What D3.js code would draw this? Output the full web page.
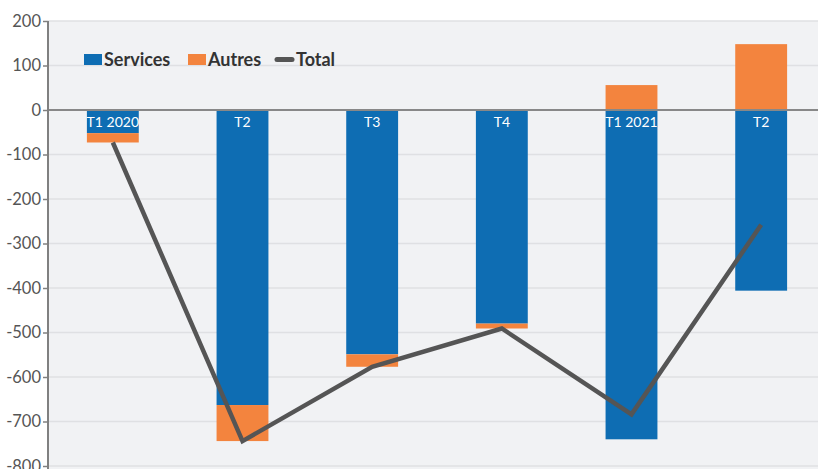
<!DOCTYPE html>
<html>
<head>
<meta charset="utf-8">
<script src="https://cdn.jsdelivr.net/npm/d3@7"></script>
<style>
  body { margin: 0; background: #fff; }
  svg { display: block; }
</style>
</head>
<body>
<svg id="chart"></svg>
<script>
const categories = ['T1 2020', 'T2', 'T3', 'T4', 'T1 2021', 'T2'];
const services = [-52, -663, -549, -480, -740, -406];
const autres = [-21, -81, -28, -11, 56, 148];
const total = [-73, -744, -577, -491, -684, -258];
const yTicks = [200, 100, 0, -100, -200, -300, -400, -500, -600, -700, -800];

const W = 818, H = 469;
const svg = d3.select('#chart').attr('width', W).attr('height', H);

const plotLeft = 48, plotTop = 21, plotBottom = 466;
const x = d3.scaleBand().domain(d3.range(categories.length)).range([plotLeft, 826])
  .paddingInner(0.6).paddingOuter(0.3);
const y = d3.scaleLinear().domain([-800, 200]).range([plotBottom, plotTop]);

// plot background
svg.append('rect')
  .attr('x', plotLeft).attr('y', plotTop)
  .attr('width', W - plotLeft).attr('height', H - plotTop)
  .attr('fill', '#f1f2f4');

// grid lines
svg.append('g')
  .selectAll('line')
  .data(yTicks.filter(d => d !== 0))
  .enter().append('line')
  .attr('x1', plotLeft).attr('x2', W)
  .attr('y1', d => y(d)).attr('y2', d => y(d))
  .attr('stroke', '#dfe0e3').attr('stroke-width', 1.5);

// y axis
const yAxis = svg.append('g')
  .attr('transform', `translate(${plotLeft},0)`)
  .call(d3.axisLeft(y).tickValues(yTicks).tickSize(5).tickFormat(d => String(d)));
yAxis.select('.domain').remove();
yAxis.selectAll('line').attr('stroke', '#808080').attr('stroke-width', 1.5);
yAxis.selectAll('text')
  .attr('fill', '#555').attr('font-size', 16.5)
  .attr('font-family', 'Lato, sans-serif')
  .attr('x', -7);

// stacked bars
const rows = categories.map((c, i) => ({ i, Services: services[i], Autres: autres[i] }));
const series = d3.stack().keys(['Services', 'Autres']).offset(d3.stackOffsetDiverging)(rows);
const colors = { Services: '#0e6db3', Autres: '#f3843e' };

svg.append('g')
  .selectAll('g')
  .data(series)
  .enter().append('g')
  .attr('fill', d => colors[d.key])
  .selectAll('rect')
  .data(d => d)
  .enter().append('rect')
  .attr('x', d => x(d.data.i))
  .attr('y', d => y(Math.max(d[0], d[1])))
  .attr('width', x.bandwidth())
  .attr('height', d => Math.abs(y(d[0]) - y(d[1])));

// zero line and y axis line
svg.append('line')
  .attr('x1', plotLeft).attr('x2', W)
  .attr('y1', y(0)).attr('y2', y(0))
  .attr('stroke', '#888').attr('stroke-width', 2);
svg.append('line')
  .attr('x1', plotLeft).attr('x2', plotLeft)
  .attr('y1', plotTop).attr('y2', H)
  .attr('stroke', '#808080').attr('stroke-width', 2);

// category labels inside bars
svg.append('g')
  .selectAll('text')
  .data(categories)
  .enter().append('text')
  .attr('x', (d, i) => x(i) + x.bandwidth() / 2)
  .attr('y', y(0) + 17)
  .attr('text-anchor', 'middle')
  .attr('fill', '#fff')
  .attr('font-size', 14)
  .attr('font-family', 'Lato, sans-serif')
  .text(d => d);

// total line
const line = d3.line()
  .x((d, i) => x(i) + x.bandwidth() / 2)
  .y(d => y(d));
svg.append('path')
  .datum(total)
  .attr('d', line)
  .attr('fill', 'none')
  .attr('stroke', '#555')
  .attr('stroke-width', 4.5);

// legend
const legend = svg.append('g').attr('font-family', 'Lato, sans-serif')
  .attr('font-size', 18).attr('font-weight', 'bold').attr('fill', '#333');
legend.append('rect').attr('x', 84).attr('y', 54).attr('width', 18).attr('height', 11).attr('fill', colors.Services);
legend.append('text').attr('x', 104).attr('y', 66).text('Services');
legend.append('rect').attr('x', 188).attr('y', 54).attr('width', 18).attr('height', 11).attr('fill', colors.Autres);
legend.append('text').attr('x', 208).attr('y', 66).text('Autres');
legend.append('line').attr('x1', 277).attr('x2', 292).attr('y1', 59.5).attr('y2', 59.5)
  .attr('stroke', '#555').attr('stroke-width', 5).attr('stroke-linecap', 'round');
legend.append('text').attr('x', 296).attr('y', 66).text('Total');
</script>
</body>
</html>
